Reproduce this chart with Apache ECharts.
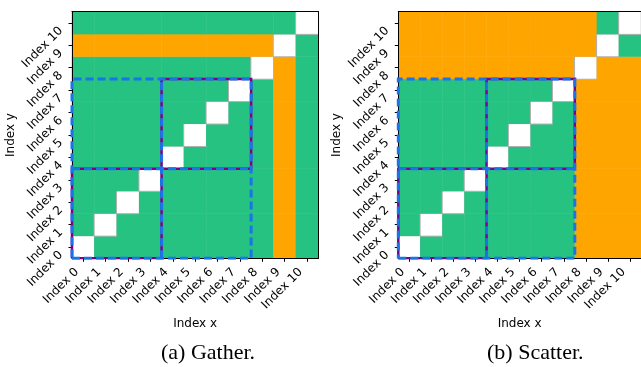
<!DOCTYPE html>
<html>
<head>
<meta charset="utf-8">
<script src="https://cdn.jsdelivr.net/npm/echarts@6/dist/echarts.min.js"></script>
<style>html,body{margin:0;padding:0;background:#fff;}#c{width:641px;height:367px;}</style>
</head>
<body>
<div id="c"></div>
<script>
// Tick labels (same for x and y)
const indexLabels = ['Index 0','Index 1','Index 2','Index 3','Index 4','Index 5','Index 6','Index 7','Index 8','Index 9','Index 10'];
// Cell codes, rows from y = 0 (bottom) to y = 10 (top): 0 = self, 1 = green, 2 = orange
const gatherRows = [
  [0,1,1,1,1,1,1,1,1,2,1],
  [1,0,1,1,1,1,1,1,1,2,1],
  [1,1,0,1,1,1,1,1,1,2,1],
  [1,1,1,0,1,1,1,1,1,2,1],
  [1,1,1,1,0,1,1,1,1,2,1],
  [1,1,1,1,1,0,1,1,1,2,1],
  [1,1,1,1,1,1,0,1,1,2,1],
  [1,1,1,1,1,1,1,0,1,2,1],
  [1,1,1,1,1,1,1,1,0,2,1],
  [2,2,2,2,2,2,2,2,2,0,1],
  [1,1,1,1,1,1,1,1,1,1,0]
];
const scatterRows = [
  [0,1,1,1,1,1,1,1,2,2,2],
  [1,0,1,1,1,1,1,1,2,2,2],
  [1,1,0,1,1,1,1,1,2,2,2],
  [1,1,1,0,1,1,1,1,2,2,2],
  [1,1,1,1,0,1,1,1,2,2,2],
  [1,1,1,1,1,0,1,1,2,2,2],
  [1,1,1,1,1,1,0,1,2,2,2],
  [1,1,1,1,1,1,1,0,2,2,2],
  [2,2,2,2,2,2,2,2,0,2,2],
  [2,2,2,2,2,2,2,2,2,0,1],
  [2,2,2,2,2,2,2,2,2,1,0]
];
// Overlay rectangles (in cell coordinates)
const blueOuter = [[-0.5,-0.5],[7.5,-0.5],[7.5,7.5],[-0.5,7.5],[-0.5,-0.5]];
const blueVertical = [[3.5,-0.5],[3.5,7.5]];
const blueHorizontal = [[-0.5,3.5],[7.5,3.5]];
const purpleLow = [[-0.5,-0.5],[3.5,-0.5],[3.5,3.5],[-0.5,3.5],[-0.5,-0.5]];
const purpleHigh = [[3.5,3.5],[7.5,3.5],[7.5,7.5],[3.5,7.5],[3.5,3.5]];
const captions = ['(a) Gather.', '(b) Scatter.'];

const cellColors = ['#ffffff', '#26c281', '#ffa500'];
const FONT = 'DejaVu Sans';

function toData(rows) {
  const out = [];
  rows.forEach((row, y) => row.forEach((v, x) => {
    out.push({
      value: [x, y, v],
      itemStyle: { color: cellColors[v], borderColor: v === 0 ? '#b0b0b0' : cellColors[v], borderWidth: v === 0 ? 1 : 0 }
    });
  }));
  return out;
}

const gridLefts = [72, 398.3];
const grids = gridLefts.map(l => ({ left: l, top: 11.7, width: 246.3, height: 246.6, containLabel: false }));

const xAxes = [], yAxes = [], series = [];
const panels = [gatherRows, scatterRows];
panels.forEach((rows, g) => {
  xAxes.push({
    type: 'category', gridIndex: g, data: indexLabels, position: 'bottom', z: 3,
    name: 'Index x', nameLocation: 'middle', nameGap: 59,
    nameTextStyle: { fontFamily: FONT, fontSize: 12, color: '#000' },
    axisLine: { show: true, onZero: false, lineStyle: { color: '#000', width: 1 } },
    axisTick: { show: true, alignWithLabel: true, length: 3.5, lineStyle: { color: '#000' } },
    axisLabel: { interval: 0, rotate: 45, margin: 5.5, padding: [0, 9, 0, 0], fontFamily: FONT, fontSize: 12, color: '#000' },
    splitLine: { show: false }
  });
  xAxes.push({
    type: 'value', gridIndex: g, min: -0.5, max: 10.5, position: 'top', z: 3,
    axisLine: { show: true, onZero: false, lineStyle: { color: '#000', width: 1 } },
    axisTick: { show: false }, axisLabel: { show: false }, splitLine: { show: false }
  });
  yAxes.push({
    type: 'category', gridIndex: g, data: indexLabels, position: 'left', z: 3,
    name: 'Index y', nameLocation: 'middle', nameGap: 54,
    nameTextStyle: { fontFamily: FONT, fontSize: 12, color: '#000' },
    axisLine: { show: true, onZero: false, lineStyle: { color: '#000', width: 1 } },
    axisTick: { show: true, alignWithLabel: true, length: 3.5, lineStyle: { color: '#000' } },
    axisLabel: { interval: 0, rotate: 45, margin: 5, padding: [0, 8.5, 0, 0], fontFamily: FONT, fontSize: 12, color: '#000' },
    splitLine: { show: false }
  });
  yAxes.push({
    type: 'value', gridIndex: g, min: -0.5, max: 10.5, position: 'right', z: 3,
    axisLine: { show: true, onZero: false, lineStyle: { color: '#000', width: 1 } },
    axisTick: { show: false }, axisLabel: { show: false }, splitLine: { show: false }
  });
  series.push({
    type: 'heatmap', xAxisIndex: g * 2, yAxisIndex: g * 2, data: toData(rows), z: 2,
    emphasis: { disabled: true }, silent: true
  });
  const lineSeries = (pts, color, width, dashed) => ({
    type: 'line', xAxisIndex: g * 2 + 1, yAxisIndex: g * 2 + 1, data: pts, z: 5,
    symbol: 'none', silent: true, animation: false,
    lineStyle: { color: color, width: width, type: dashed ? [8, 4] : 'solid', cap: 'butt', join: 'miter' }
  });
  series.push(lineSeries(purpleLow, '#800080', 2.5, false));
  series.push(lineSeries(purpleHigh, '#800080', 2.5, false));
  series.push(lineSeries(blueOuter, '#1a73e8', 3, true));
  series.push(lineSeries(blueVertical, '#1a73e8', 3, true));
  series.push(lineSeries(blueHorizontal, '#1a73e8', 3, true));
});

const chart = echarts.init(document.getElementById('c'), null, { renderer: 'canvas' });
chart.setOption({
  animation: false,
  backgroundColor: '#fff',
  grid: grids,
  xAxis: xAxes,
  yAxis: yAxes,
  series: series,
  graphic: [
    { type: 'text', left: 161, top: 342, style: { text: captions[0], font: '22px "Liberation Serif"', fill: '#000', textAlign: 'center' } },
    { type: 'text', left: 487, top: 342, style: { text: captions[1], font: '22px "Liberation Serif"', fill: '#000', textAlign: 'center' } }
  ]
});
</script>
</body>
</html>
